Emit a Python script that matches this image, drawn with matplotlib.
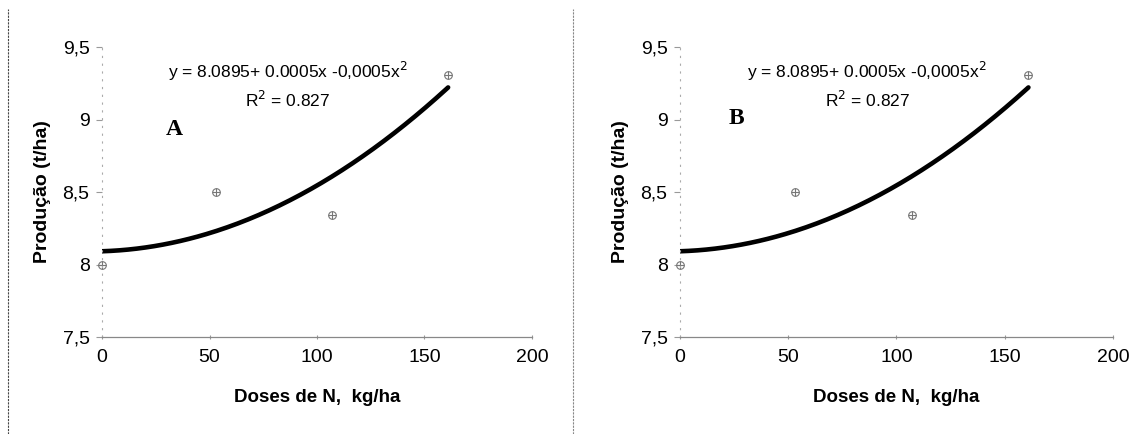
import matplotlib
matplotlib.use('Agg')
import matplotlib.pyplot as plt
from matplotlib.lines import Line2D
import numpy as np

plt.rcParams['font.family'] = ['Liberation Sans', 'DejaVu Sans']

# dados (iguais nos dois paineis)
doses = [0, 53, 107, 161]
producao = [8.0, 8.5, 8.34, 9.31]
yticks = [7.5, 8.0, 8.5, 9.0, 9.5]
ytick_labels = ['7,5', '8', '8,5', '9', '9,5']
xticks = [0, 50, 100, 150, 200]
painel_letras = ['A', 'B']
equacao = 'y = 8.0895+ 0.0005x -0,0005x$^2$'
r2_texto = 'R$^2$ = 0.827'

# tendencia polinomial de 2a ordem ajustada aos pontos
coef = np.polyfit(doses, producao, 2)
xs = np.linspace(min(doses), max(doses), 200)
ys = np.polyval(coef, xs)

fig = plt.figure(figsize=(11.45, 4.34), dpi=100)
posicoes = [[0.0891, 0.2235, 0.3755, 0.6682], [0.5939, 0.2235, 0.378, 0.6682]]
letra_pos = [(33.5, 8.93), (26, 9.01)]

for pos, letra, lp in zip(posicoes, painel_letras, letra_pos):
    ax = fig.add_axes(pos)
    ax.plot(xs, ys, color='black', lw=3.3, solid_capstyle='round')
    ax.plot(doses, producao, 'o', ms=5.5, mfc='none', mec='#777777', mew=0.8, clip_on=False)
    ax.plot(doses, producao, '+', ms=5.5, color='#777777', mew=0.8, clip_on=False)
    ax.set_xlim(0, 200)
    ax.set_ylim(7.5, 9.5)
    ax.set_yticks(yticks)
    ax.set_yticklabels(ytick_labels)
    ax.set_xticks(xticks)
    for s in ['top', 'right']:
        ax.spines[s].set_visible(False)
    ax.spines['left'].set_color('#aaaaaa')
    ax.spines['left'].set_linestyle((0, (1, 6)))
    ax.spines['left'].set_linewidth(0.8)
    ax.spines['bottom'].set_color('#888888')
    ax.spines['bottom'].set_linewidth(0.9)
    ax.tick_params(axis='y', length=4, color='#999999', labelsize=14, pad=5)
    ax.tick_params(axis='x', length=3, direction='inout', color='#999999', labelsize=14, pad=7)
    ax.set_xlabel('Doses de N,  kg/ha', fontsize=13.5, fontweight='bold', labelpad=17)
    ax.set_ylabel('Produção (t/ha)', fontsize=14, fontweight='bold', labelpad=8)
    ax.text(86.5, 9.33, equacao, fontsize=12.5, ha='center', va='center')
    ax.text(86.5, 9.135, r2_texto, fontsize=12.5, ha='center', va='center')
    ax.text(lp[0], lp[1], letra, fontsize=17, fontweight='bold',
            family='Liberation Serif', ha='center', va='center')

# linhas de moldura das figuras escaneadas
for xf, cor in [(8 / 1145, '#444444'), (573 / 1145, '#888888')]:
    fig.add_artist(Line2D([xf, xf], [0, 0.98], transform=fig.transFigure,
                          color=cor, lw=0.8, ls=(0, (2, 1))))

fig.savefig('out.png', dpi=100, facecolor='white')
